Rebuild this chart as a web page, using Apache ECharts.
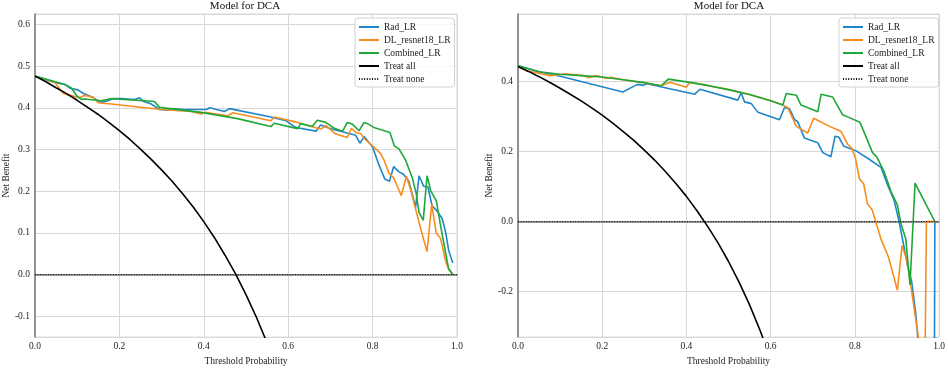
<!DOCTYPE html>
<html>
<head>
<meta charset="utf-8">
<script src="https://cdn.jsdelivr.net/npm/echarts@6/dist/echarts.min.js"></script>
<style>html,body{margin:0;padding:0;background:#fff;}#c{width:948px;height:371px;}</style>
</head>
<body>
<div id="c"></div>
<script>
// ---------- data ----------
const seriesNames = ['Rad_LR', 'DL_resnet18_LR', 'Combined_LR', 'Treat all', 'Treat none'];
const xTicks = [0, 0.2, 0.4, 0.6, 0.8, 1.0];

// Left panel: [threshold, net benefit]
const radLeft = [[0,0.476],[0.047,0.461],[0.071,0.456],[0.083,0.447],[0.102,0.443],[0.114,0.435],[0.118,0.431],[0.138,0.425],[0.144,0.42],[0.157,0.413],[0.173,0.417],[0.185,0.422],[0.205,0.422],[0.236,0.42],[0.248,0.424],[0.256,0.416],[0.276,0.409],[0.295,0.396],[0.315,0.394],[0.325,0.398],[0.354,0.396],[0.37,0.396],[0.406,0.396],[0.414,0.4],[0.449,0.391],[0.461,0.398],[0.559,0.378],[0.595,0.369],[0.614,0.355],[0.622,0.352],[0.666,0.344],[0.677,0.359],[0.701,0.35],[0.76,0.334],[0.77,0.315],[0.78,0.331],[0.8,0.306],[0.815,0.263],[0.829,0.229],[0.84,0.224],[0.85,0.259],[0.862,0.247],[0.874,0.24],[0.886,0.224],[0.902,0.161],[0.91,0.237],[0.921,0.212],[0.931,0.21],[0.941,0.165],[0.954,0.151],[0.965,0.134],[0.973,0.102],[0.98,0.059],[0.99,0.028]];
const dlLeft = [[0,0.476],[0.047,0.461],[0.067,0.435],[0.079,0.431],[0.094,0.427],[0.106,0.424],[0.118,0.43],[0.138,0.425],[0.15,0.412],[0.181,0.409],[0.299,0.396],[0.37,0.391],[0.394,0.385],[0.402,0.389],[0.457,0.381],[0.469,0.388],[0.559,0.369],[0.567,0.378],[0.622,0.365],[0.666,0.352],[0.677,0.349],[0.689,0.357],[0.713,0.337],[0.74,0.329],[0.75,0.351],[0.76,0.341],[0.773,0.337],[0.78,0.326],[0.803,0.306],[0.819,0.29],[0.827,0.275],[0.839,0.243],[0.85,0.232],[0.868,0.189],[0.88,0.236],[0.89,0.204],[0.902,0.157],[0.914,0.11],[0.929,0.055],[0.94,0.169],[0.951,0.099],[0.961,0.087],[0.973,0.032],[0.98,0.014],[0.99,0]];
const combLeft = [[0,0.476],[0.071,0.456],[0.087,0.447],[0.098,0.43],[0.11,0.42],[0.118,0.421],[0.157,0.417],[0.181,0.422],[0.26,0.417],[0.283,0.415],[0.295,0.401],[0.394,0.389],[0.48,0.374],[0.559,0.355],[0.567,0.363],[0.622,0.35],[0.63,0.362],[0.657,0.355],[0.669,0.37],[0.689,0.365],[0.709,0.351],[0.729,0.344],[0.74,0.365],[0.752,0.361],[0.768,0.345],[0.78,0.365],[0.788,0.362],[0.803,0.353],[0.841,0.341],[0.852,0.308],[0.862,0.302],[0.878,0.275],[0.894,0.232],[0.903,0.196],[0.91,0.149],[0.92,0.13],[0.929,0.237],[0.938,0.2],[0.951,0.177],[0.961,0.118],[0.973,0.052],[0.98,0.014],[0.99,0]];
const treatAllLeft = [[0,0.476],[0.025,0.463],[0.05,0.448],[0.075,0.434],[0.1,0.418],[0.125,0.401],[0.15,0.384],[0.175,0.365],[0.2,0.345],[0.225,0.324],[0.25,0.301],[0.275,0.277],[0.3,0.251],[0.325,0.224],[0.35,0.194],[0.375,0.162],[0.4,0.127],[0.425,0.089],[0.45,0.047],[0.475,0.002],[0.5,-0.048],[0.525,-0.103],[0.55,-0.164],[0.575,-0.233],[0.6,-0.31]];
const treatNoneLeft = [[0,0],[1,0]];

// Right panel
const radRight = [[0,0.445],[0.05,0.428],[0.101,0.415],[0.117,0.41],[0.249,0.37],[0.271,0.384],[0.284,0.392],[0.298,0.389],[0.306,0.394],[0.42,0.364],[0.432,0.378],[0.522,0.347],[0.53,0.368],[0.538,0.342],[0.554,0.337],[0.57,0.312],[0.621,0.291],[0.633,0.326],[0.645,0.322],[0.657,0.291],[0.664,0.286],[0.68,0.239],[0.712,0.225],[0.724,0.197],[0.743,0.185],[0.753,0.244],[0.762,0.241],[0.773,0.216],[0.803,0.202],[0.834,0.178],[0.862,0.155],[0.878,0.104],[0.893,0.062],[0.905,0.001],[0.917,-0.074],[0.925,-0.125],[0.935,-0.172],[0.945,-0.266],[0.95,-0.34],[0.96,-0.9],[0.97,-2.2],[0.98,-4.0],[0.99,0]];
const dlRight = [[0,0.445],[0.022,0.43],[0.05,0.424],[0.075,0.417],[0.101,0.42],[0.112,0.422],[0.156,0.417],[0.168,0.411],[0.186,0.417],[0.211,0.409],[0.22,0.412],[0.25,0.405],[0.3,0.396],[0.34,0.388],[0.361,0.398],[0.4,0.384],[0.408,0.398],[0.45,0.389],[0.5,0.377],[0.55,0.363],[0.6,0.345],[0.629,0.333],[0.641,0.325],[0.661,0.272],[0.688,0.253],[0.702,0.295],[0.74,0.272],[0.767,0.258],[0.783,0.221],[0.793,0.209],[0.801,0.183],[0.811,0.122],[0.821,0.108],[0.83,0.05],[0.841,0.034],[0.862,-0.05],[0.88,-0.102],[0.901,-0.196],[0.912,-0.069],[0.923,-0.107],[0.935,-0.2],[0.943,-0.266],[0.951,-0.331],[0.96,-1.2],[0.97,0],[0.98,0],[0.99,0]];
const combRight = [[0,0.445],[0.05,0.428],[0.1,0.421],[0.15,0.417],[0.2,0.413],[0.25,0.405],[0.3,0.397],[0.34,0.388],[0.357,0.407],[0.4,0.399],[0.45,0.389],[0.5,0.377],[0.55,0.363],[0.6,0.345],[0.629,0.333],[0.637,0.366],[0.661,0.361],[0.672,0.333],[0.712,0.314],[0.72,0.364],[0.747,0.356],[0.771,0.305],[0.787,0.297],[0.812,0.284],[0.842,0.197],[0.852,0.185],[0.87,0.141],[0.886,0.085],[0.901,0.048],[0.909,-0.004],[0.921,-0.05],[0.931,-0.181],[0.943,0.11],[0.99,0]];
const treatAllRight = [[0,0.443],[0.025,0.429],[0.05,0.414],[0.075,0.398],[0.1,0.381],[0.125,0.363],[0.15,0.345],[0.175,0.325],[0.2,0.304],[0.225,0.281],[0.25,0.257],[0.275,0.232],[0.3,0.204],[0.325,0.175],[0.35,0.143],[0.375,0.109],[0.4,0.072],[0.425,0.031],[0.45,-0.013],[0.475,-0.061],[0.5,-0.114],[0.525,-0.173],[0.55,-0.238],[0.575,-0.311],[0.6,-0.393]];
const treatNoneRight = [[0,0],[1,0]];

// ---------- chart ----------
const FONT = 'Liberation Serif';
const COLORS = ['#1f86c8', '#f88d1f', '#1fa83a', '#000000', '#000000'];
const chart = echarts.init(document.getElementById('c'), null, {renderer: 'canvas'});

function title(cx) {
  return {text: 'Model for DCA', left: cx, top: 1, textAlign: 'center', padding: 0,
    textStyle: {fontFamily: FONT, fontSize: 11, fontWeight: 'normal', color: '#111'}};
}
function legend(left) {
  return {left: left, top: 18, orient: 'vertical', itemWidth: 20, itemHeight: 10, itemGap: 3,
    padding: [4, 4, 3, 3], borderColor: '#d0d0d0', borderWidth: 1, borderRadius: 3,
    backgroundColor: 'rgba(255,255,255,0.85)', data: seriesNames,
    itemStyle: {opacity: 0},
    textStyle: {fontFamily: FONT, fontSize: 9.5, color: '#222'}};
}
function xAxis(i) {
  return {gridIndex: i, type: 'value', min: 0, max: 1, interval: 0.2,
    name: 'Threshold Probability', nameLocation: 'middle', nameGap: 16,
    nameTextStyle: {fontFamily: FONT, fontSize: 9.5, color: '#222'},
    axisLabel: {formatter: v => v.toFixed(1), margin: 4, fontFamily: FONT, fontSize: 9.5, color: '#222'},
    axisLine: {lineStyle: {color: '#777', width: 1.5}},
    axisTick: {show: false},
    splitLine: {show: true, lineStyle: {color: '#d8d8d8', width: 1}}};
}
function yAxis(i, min, max, split) {
  return {gridIndex: i, type: 'value', min: min, max: max, splitNumber: split,
    name: 'Net Benefit', nameLocation: 'middle', nameGap: 22,
    nameTextStyle: {fontFamily: FONT, fontSize: 9.5, color: '#222'},
    axisLabel: {formatter: v => v.toFixed(1), margin: 5, showMinLabel: false, showMaxLabel: false,
      fontFamily: FONT, fontSize: 9.5, color: '#222'},
    axisLine: {show: true, lineStyle: {color: '#777', width: 1.5}},
    axisTick: {show: false},
    splitLine: {show: true, lineStyle: {color: '#d8d8d8', width: 1}}};
}
function line(name, data, idx, color, extra) {
  return Object.assign({name: name, type: 'line', xAxisIndex: idx, yAxisIndex: idx, data: data,
    symbol: 'none', clip: true, color: color,
    lineStyle: {color: color, width: 1.6}}, extra || {});
}
const panels = [
  [radLeft, dlLeft, combLeft, treatAllLeft, treatNoneLeft],
  [radRight, dlRight, combRight, treatAllRight, treatNoneRight]
];
const series = [];
panels.forEach((p, i) => {
  series.push(line(seriesNames[0], p[0], i, COLORS[0]));
  series.push(line(seriesNames[1], p[1], i, COLORS[1]));
  series.push(line(seriesNames[2], p[2], i, COLORS[2]));
  series.push(line(seriesNames[3], p[3], i, COLORS[3], {lineStyle: {color: '#000', width: 1.6}}));
  series.push(line(seriesNames[4], p[4], i, COLORS[4], {lineStyle: {color: '#000', width: 1, type: [1, 1.6]}}));
});

chart.setOption({
  animation: false,
  backgroundColor: '#fff',
  title: [title(245), title(729)],
  legend: [legend(355), legend(839)],
  grid: [
    {left: 33, right: 491, top: 14, bottom: 27, show: true, borderColor: '#d8d8d8', borderWidth: 1, backgroundColor: 'transparent'},
    {left: 518, right: 8, top: 14, bottom: 28, show: true, borderColor: '#d8d8d8', borderWidth: 1, backgroundColor: 'transparent'}
  ],
  xAxis: [xAxis(0), xAxis(1)],
  yAxis: [yAxis(0, -0.15, 0.625, 8), yAxis(1, -0.33, 0.593, 5)],
  series: series
});
</script>
</body>
</html>
